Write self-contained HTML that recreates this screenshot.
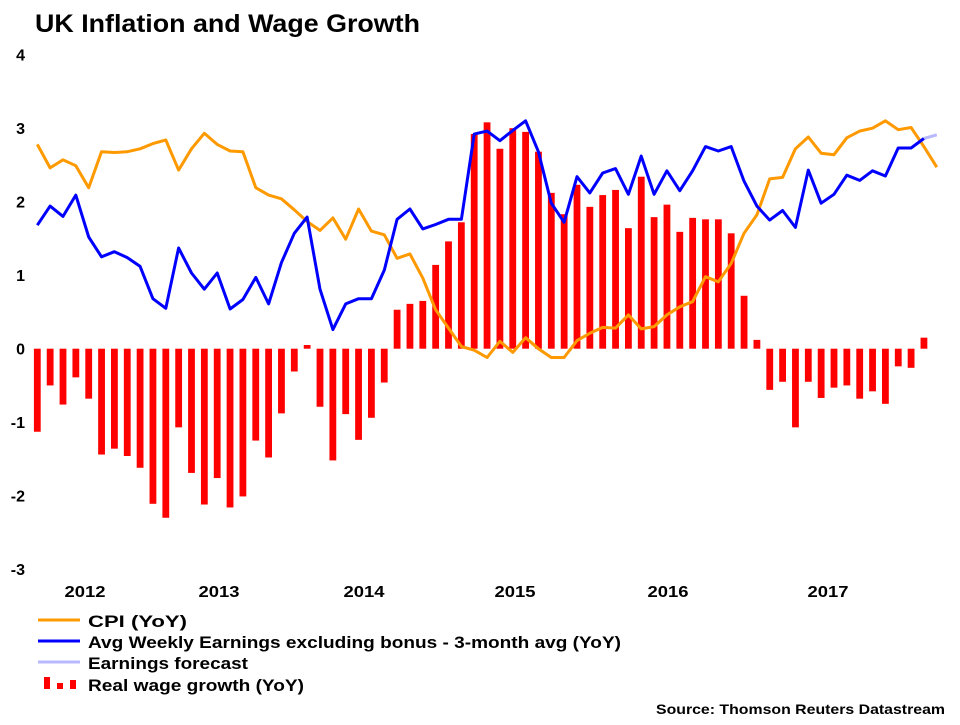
<!DOCTYPE html>
<html><head><meta charset="utf-8"><style>
body{margin:0;background:#fff;width:960px;height:720px;overflow:hidden;font-family:"Liberation Sans",Arial,sans-serif}
svg text{font-family:"Liberation Sans",Arial,sans-serif;font-weight:bold;fill:#000}
</style></head><body>
<svg id="chart" width="960" height="720" xmlns="http://www.w3.org/2000/svg">
<text x="35" y="32" font-size="25" textLength="385" lengthAdjust="spacingAndGlyphs">UK Inflation and Wage Growth</text>
<g id="yaxis"></g>
<g id="xaxis"></g>
<g id="bars"></g>
<g id="lines"></g>
<g>
<line x1="38" y1="620" x2="80" y2="620" stroke="#ff9900" stroke-width="3"/>
<text x="88" y="627" font-size="17" textLength="99" lengthAdjust="spacingAndGlyphs">CPI (YoY)</text>
<line x1="38" y1="641" x2="80" y2="641" stroke="#0000ff" stroke-width="3"/>
<text x="88" y="648" font-size="17" textLength="533" lengthAdjust="spacingAndGlyphs">Avg Weekly Earnings excluding bonus - 3-month avg (YoY)</text>
<line x1="38" y1="662" x2="80" y2="662" stroke="#b8b8ff" stroke-width="3"/>
<text x="88" y="669" font-size="17" textLength="160" lengthAdjust="spacingAndGlyphs">Earnings forecast</text>
<rect x="44" y="677" width="6" height="12" fill="#ff0000"/>
<rect x="57" y="683" width="6" height="6" fill="#ff0000"/>
<rect x="70" y="680" width="6" height="9" fill="#ff0000"/>
<text x="88" y="691" font-size="17" textLength="216" lengthAdjust="spacingAndGlyphs">Real wage growth (YoY)</text>
</g>
<text x="656" y="714" font-size="14" textLength="289" lengthAdjust="spacingAndGlyphs">Source: Thomson Reuters Datastream</text>
</svg>
<script>
const yTicks=[4,3,2,1,0,-1,-2,-3];
const yearLabels=["2012","2013","2014","2015","2016","2017"];
const yearLabelX=[85,219,364,515,668,828];
const realWage=[-1.13,-0.50,-0.76,-0.39,-0.68,-1.44,-1.36,-1.46,-1.62,-2.11,-2.30,-1.07,-1.69,-2.12,-1.76,-2.16,-2.01,-1.25,-1.48,-0.88,-0.31,0.05,-0.79,-1.52,-0.89,-1.24,-0.94,-0.46,0.53,0.61,0.65,1.14,1.46,1.72,2.92,3.08,2.72,3.00,2.95,2.68,2.12,1.83,2.23,1.93,2.09,2.16,1.64,2.34,1.79,1.96,1.59,1.78,1.76,1.76,1.57,0.72,0.12,-0.56,-0.45,-1.07,-0.45,-0.67,-0.53,-0.50,-0.68,-0.58,-0.75,-0.24,-0.26,0.15];
const cpi=[2.78,2.46,2.57,2.49,2.19,2.68,2.67,2.68,2.72,2.79,2.84,2.43,2.72,2.93,2.78,2.69,2.68,2.19,2.09,2.04,1.89,1.73,1.61,1.78,1.49,1.90,1.60,1.55,1.23,1.29,0.96,0.53,0.28,0.03,-0.02,-0.12,0.10,-0.05,0.15,0.0,-0.12,-0.12,0.11,0.21,0.29,0.28,0.46,0.27,0.30,0.46,0.57,0.64,0.98,0.91,1.16,1.57,1.82,2.31,2.33,2.72,2.88,2.66,2.64,2.87,2.96,3.00,3.10,2.98,3.01,2.75,2.47];
const awe=[1.68,1.94,1.80,2.09,1.52,1.25,1.32,1.24,1.12,0.68,0.55,1.37,1.03,0.81,1.03,0.54,0.67,0.97,0.61,1.17,1.57,1.79,0.81,0.26,0.61,0.68,0.68,1.07,1.76,1.90,1.63,1.69,1.76,1.76,2.92,2.96,2.83,2.97,3.10,2.68,1.98,1.72,2.34,2.12,2.39,2.45,2.10,2.62,2.10,2.42,2.15,2.42,2.75,2.69,2.75,2.28,1.94,1.75,1.88,1.65,2.43,1.98,2.10,2.36,2.29,2.42,2.35,2.73,2.73,2.86];
const forecastIdx=[69,70];
const forecast=[2.86,2.91];

const NS="http://www.w3.org/2000/svg";
const x=i=>37.3+i*12.85;
const y=v=>348.7-v*73.5;
function mk(tag,attrs,parent){const e=document.createElementNS(NS,tag);for(const k in attrs)e.setAttribute(k,attrs[k]);parent.appendChild(e);return e;}
const yax=document.getElementById('yaxis');
yTicks.forEach(t=>{const e=mk('text',{x:25,y:y(t)+6,'font-size':16,'text-anchor':'end'},yax);


e.textContent=t;});
const xax=document.getElementById('xaxis');
yearLabels.forEach((l,i)=>{const e=mk('text',{x:yearLabelX[i]-20.5,y:597,'font-size':16,textLength:41,lengthAdjust:'spacingAndGlyphs'},xax);


e.textContent=l;});
const bg=document.getElementById('bars');
realWage.forEach((v,i)=>{const top=Math.min(y(v),y(0)),h=Math.abs(y(v)-y(0));
const r=mk('rect',{x:x(i)-3.4,y:top,width:6.8,height:h,fill:'#ff0000'},bg);

});
const lg=document.getElementById('lines');
function line(vals,idx,color,name){const pts=vals.map((v,i)=>x(idx?idx[i]:i).toFixed(1)+','+y(v).toFixed(1)).join(' ');
const p=mk('polyline',{points:pts,fill:'none',stroke:color,'stroke-width':3,'stroke-linejoin':'round'},lg);

}
line(forecast,forecastIdx,'#b8b8ff','earnings-forecast-line');
line(cpi,null,'#ff9900','cpi-line');
line(awe,null,'#0000ff','awe-line');
</script>
</body></html>
